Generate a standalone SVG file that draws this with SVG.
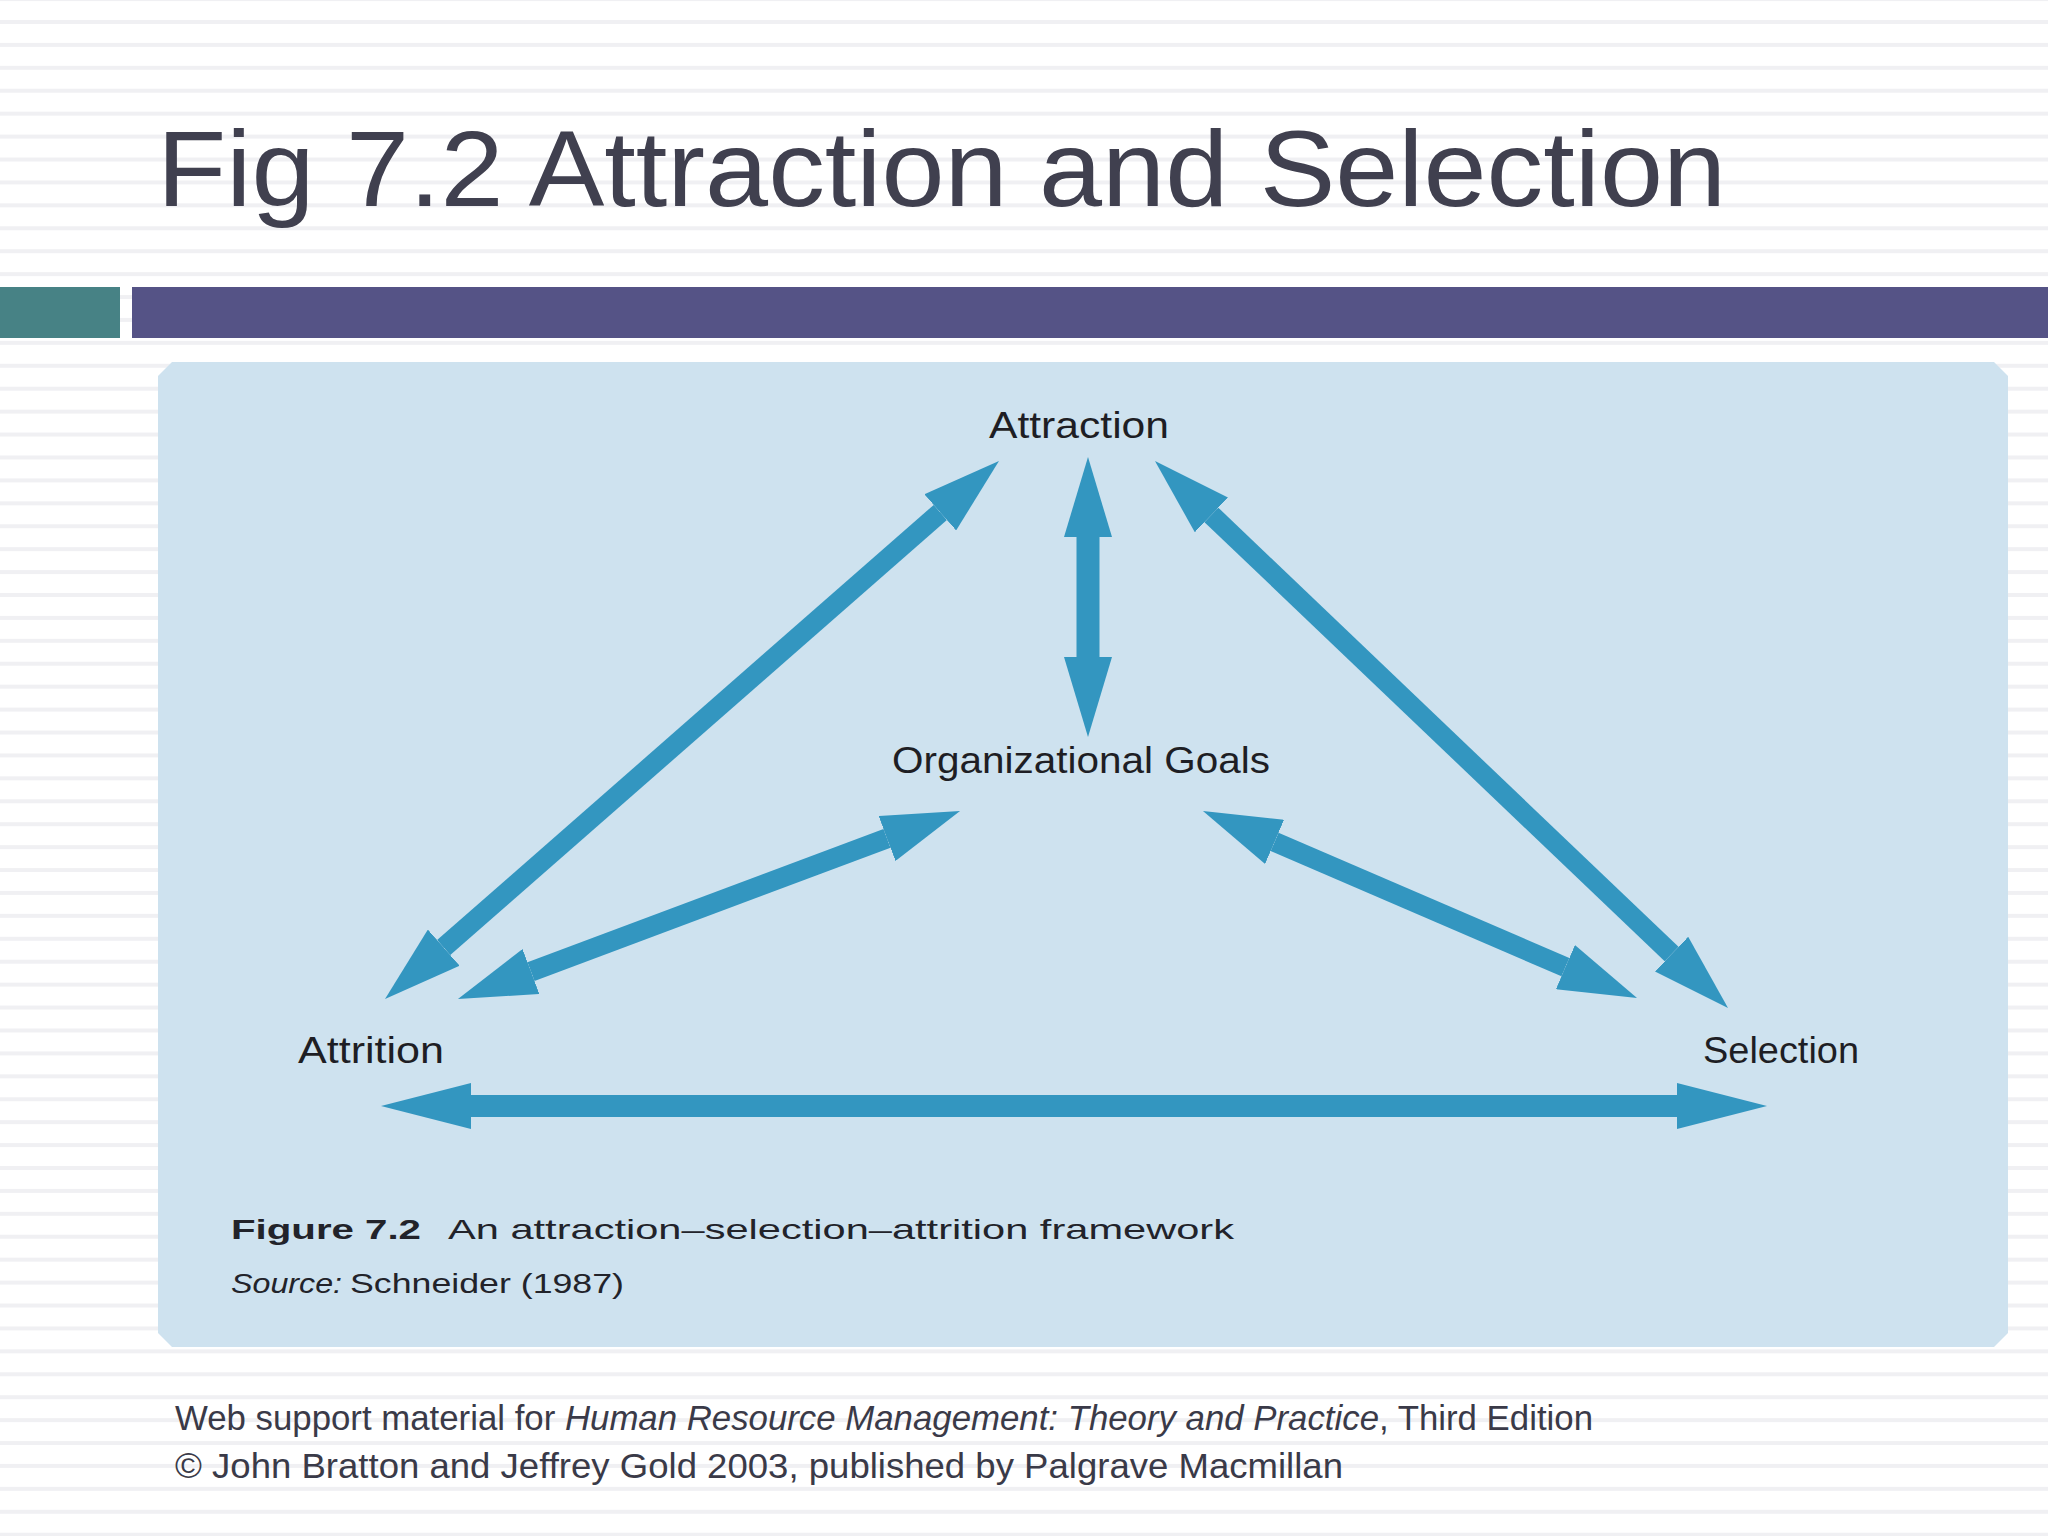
<svg xmlns="http://www.w3.org/2000/svg" width="2048" height="1536" viewBox="0 0 2048 1536">
  <defs>
    <pattern id="stripes" x="0" y="20" width="2048" height="22.92" patternUnits="userSpaceOnUse">
      <rect x="0" y="0" width="2048" height="4" fill="#f0f0f3"/>
    </pattern>
    <marker id="head" markerUnits="userSpaceOnUse" markerWidth="80" markerHeight="48" refX="0" refY="24" orient="auto-start-reverse" viewBox="0 0 80 48">
      <path d="M0,0 L78,24 L0,48 Z" fill="#3396c0"/>
    </marker>
    <marker id="headH" markerUnits="userSpaceOnUse" markerWidth="92" markerHeight="46" refX="0" refY="23" orient="auto-start-reverse" viewBox="0 0 92 46">
      <path d="M0,0 L90,23 L0,46 Z" fill="#3396c0"/>
    </marker>
    <marker id="headV" markerUnits="userSpaceOnUse" markerWidth="82" markerHeight="48" refX="0" refY="24" orient="auto-start-reverse" viewBox="0 0 82 48">
      <path d="M0,0 L80,24 L0,48 Z" fill="#3396c0"/>
    </marker>
  </defs>
  <style>
    .title { font-family: "Liberation Sans", Arial, sans-serif; font-size: 108px; fill: #40404f; }
    .node { font-family: "Liberation Sans", Arial, sans-serif; font-size: 36px; fill: #1e1e24; }
    .cap { font-family: "Liberation Sans", Arial, sans-serif; font-size: 28px; fill: #22232a; }
    .foot { font-family: "Liberation Sans", Arial, sans-serif; font-size: 35px; fill: #3a3a48; }
    .arrow { stroke: #3396c0; stroke-width: 20; fill: none; stroke-linecap: butt; }
  </style>

  <!-- background -->
  <rect x="0" y="0" width="2048" height="1536" fill="#ffffff"/>
  <rect x="0" y="0" width="2048" height="1536" fill="url(#stripes)"/>

  <!-- title -->
  <text class="title" x="157" y="206" textLength="1569" lengthAdjust="spacingAndGlyphs">Fig 7.2 Attraction and Selection</text>

  <!-- header bars -->
  <rect x="0" y="287" width="120" height="51" fill="#478285"/>
  <rect x="132" y="287" width="1916" height="51" fill="#555386"/>

  <!-- figure panel -->
  <path d="M172,362 H1994 L2008,376 V1333 L1994,1347 H172 L158,1333 V376 Z" fill="#cee2ef"/>

  <!-- connectors -->
  <g id="connectors">
    <line class="arrow" x1="940.3" y1="512.4" x2="443.7" y2="947.6" marker-start="url(#head)" marker-end="url(#head)"/>
    <line class="arrow" style="stroke-width:23" x1="1088" y1="537" x2="1088" y2="657" marker-start="url(#headV)" marker-end="url(#headV)"/>
    <line class="arrow" x1="1211.4" y1="514.9" x2="1671.6" y2="954.1" marker-start="url(#head)" marker-end="url(#head)"/>
    <line class="arrow" x1="887.0" y1="838.4" x2="531.0" y2="971.6" marker-start="url(#head)" marker-end="url(#head)"/>
    <line class="arrow" x1="1274.6" y1="841.9" x2="1565.4" y2="967.1" marker-start="url(#head)" marker-end="url(#head)"/>
    <line class="arrow" style="stroke-width:22" x1="471" y1="1106" x2="1677" y2="1106" marker-start="url(#headH)" marker-end="url(#headH)"/>
  </g>

  <!-- nodes -->
  <g id="node-attraction">
    <text class="node" x="989" y="438" textLength="180" lengthAdjust="spacingAndGlyphs">Attraction</text>
  </g>
  <g id="node-goals">
    <text class="node" x="892" y="773" textLength="378" lengthAdjust="spacingAndGlyphs">Organizational Goals</text>
  </g>
  <g id="node-attrition">
    <text class="node" x="298" y="1063" textLength="146" lengthAdjust="spacingAndGlyphs">Attrition</text>
  </g>
  <g id="node-selection">
    <text class="node" x="1703" y="1063" textLength="156" lengthAdjust="spacingAndGlyphs">Selection</text>
  </g>

  <!-- caption -->
  <g id="caption">
    <text class="cap" x="231" y="1239" font-weight="bold" textLength="190" lengthAdjust="spacingAndGlyphs">Figure 7.2</text>
    <text class="cap" x="448" y="1239" textLength="786" lengthAdjust="spacingAndGlyphs">An attraction–selection–attrition framework</text>
    <text class="cap" x="231" y="1293" font-style="italic" textLength="111" lengthAdjust="spacingAndGlyphs">Source:</text>
    <text class="cap" x="350" y="1293" textLength="274" lengthAdjust="spacingAndGlyphs">Schneider (1987)</text>
  </g>

  <!-- footer -->
  <g id="footer">
    <text class="foot" x="175" y="1430" textLength="1418" lengthAdjust="spacingAndGlyphs">Web support material for <tspan font-style="italic">Human Resource Management: Theory and Practice</tspan>, Third Edition</text>
    <text class="foot" x="175" y="1478" textLength="1168" lengthAdjust="spacingAndGlyphs">© John Bratton and Jeffrey Gold 2003, published by Palgrave Macmillan</text>
  </g>
</svg>
